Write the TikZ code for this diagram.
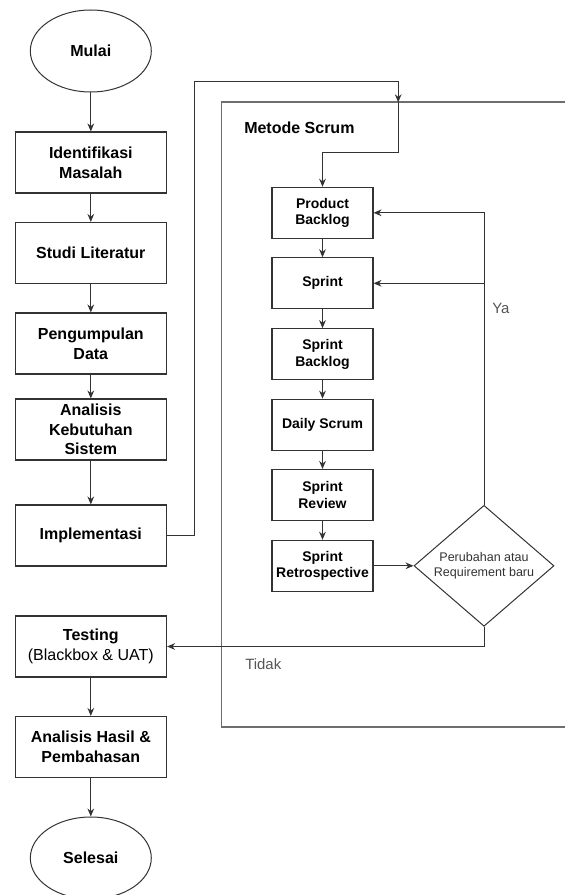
\documentclass[tikz,border=0pt]{standalone}
\usepackage{fontspec}
\setmainfont{Liberation Sans}
\usetikzlibrary{shapes.geometric,arrows.meta}
\definecolor{edgegray}{HTML}{333333}
\definecolor{framegray}{HTML}{6E6E6E}
\definecolor{labelgray}{HTML}{555555}
\tikzset{
    flow-box/.style = {draw=edgegray, fill=white, line width=0.8pt, rectangle, inner sep=1pt, align=center, minimum width=113.6pt, minimum height=45.75pt, font=\fontsize{12}{14.8}\selectfont\bfseries},
    scrum-box/.style = {flow-box, minimum width=75.75pt, minimum height=38.25pt, font=\fontsize{10.5}{12.5}\selectfont\bfseries},
    terminal/.style = {draw=edgegray, fill=white, line width=0.75pt, ellipse, minimum width=90.75pt, minimum height=61.5pt, font=\fontsize{12}{14.8}\selectfont\bfseries},
    decision/.style = {draw=edgegray, fill=white, line width=0.75pt, diamond, aspect=1.16, inner sep=-3pt, align=center, minimum width=105pt, minimum height=90.75pt, text=edgegray, font=\fontsize{9.4}{10.7}\selectfont},
    flow-arrow/.style = {draw=edgegray, line width=0.75pt, -{Stealth[length=6pt,width=5pt]}},
    branch-label/.style = {anchor=west, inner sep=0pt, text=labelgray, font=\fontsize{11.2}{13}\selectfont},
}

\begin{document}
\begin{tikzpicture}[x=0.75pt, y=-0.75pt]
\useasboundingbox (0,0) rectangle (565,895);

% scrum frame, open to the right
\draw[framegray, line width=1.2pt] (565,102.3) -| (221.3,726.7) -- (565,726.7);
\node[anchor=west, inner sep=0pt, font=\fontsize{12}{14}\selectfont\bfseries] (scrumtitle) at (244,127.7) {Metode Scrum};
\coordinate (entry) at (398.2,102.3);

% main flow
\node[terminal] (mulai) at (90.8,51) {Mulai};
\node[flow-box] (ident) at (90.8,162.5) {Identifikasi\\Masalah};
\node[flow-box] (studi) at (90.8,253) {Studi Literatur};
\node[flow-box] (kumpul) at (90.8,343.5) {Pengumpulan\\Data};
\node[flow-box] (butuh) at (90.8,429.5) {Analisis\\Kebutuhan\\Sistem};
\node[flow-box] (impl) at (90.8,535.5) {Implementasi};
\node[flow-box] (test) at (90.8,646.5) {Testing\\\mdseries(Blackbox \& UAT)};
\node[flow-box] (hasil) at (90.8,747) {Analisis Hasil \&\\Pembahasan};
\node[terminal] (selesai) at (90.8,858) {Selesai};

% scrum steps
\node[scrum-box] (pb) at (322.5,212.8) {Product\\Backlog};
\node[scrum-box] (sprint) at (322.5,283.3) {Sprint};
\node[scrum-box] (sb) at (322.5,354.2) {Sprint\\Backlog};
\node[scrum-box] (daily) at (322.5,424.7) {Daily Scrum};
\node[scrum-box] (review) at (322.5,495) {Sprint\\Review};
\node[scrum-box] (retro) at (322.5,565.8) {Sprint\\Retrospective};
\node[decision] (check) at (484,565.8) {Perubahan atau\\Requirement baru};

\foreach \a/\b in {mulai/ident, ident/studi, studi/kumpul, kumpul/butuh, butuh/impl, test/hasil, hasil/selesai, pb/sprint, sprint/sb, sb/daily, daily/review, review/retro, retro/check}
    \draw[flow-arrow] (\a) -- (\b);

% into the scrum frame
\draw[flow-arrow] (impl.east) -| (194.6,81.7) -- (entry |- 0,81.7) -- (entry);
\draw[flow-arrow] (entry) -- (entry |- 0,152.3) -| (pb.north);

% loop back and exit
\draw[flow-arrow] (check.north) |- (pb.east);
\draw[flow-arrow] (check.north |- sprint.east) -- (sprint.east);
\draw[flow-arrow] (check.south) |- (test.east);
\node[branch-label] (ya) at (492,308.3) {Ya};
\node[branch-label] (tidak) at (245,664) {Tidak};
\end{tikzpicture}
\end{document}
